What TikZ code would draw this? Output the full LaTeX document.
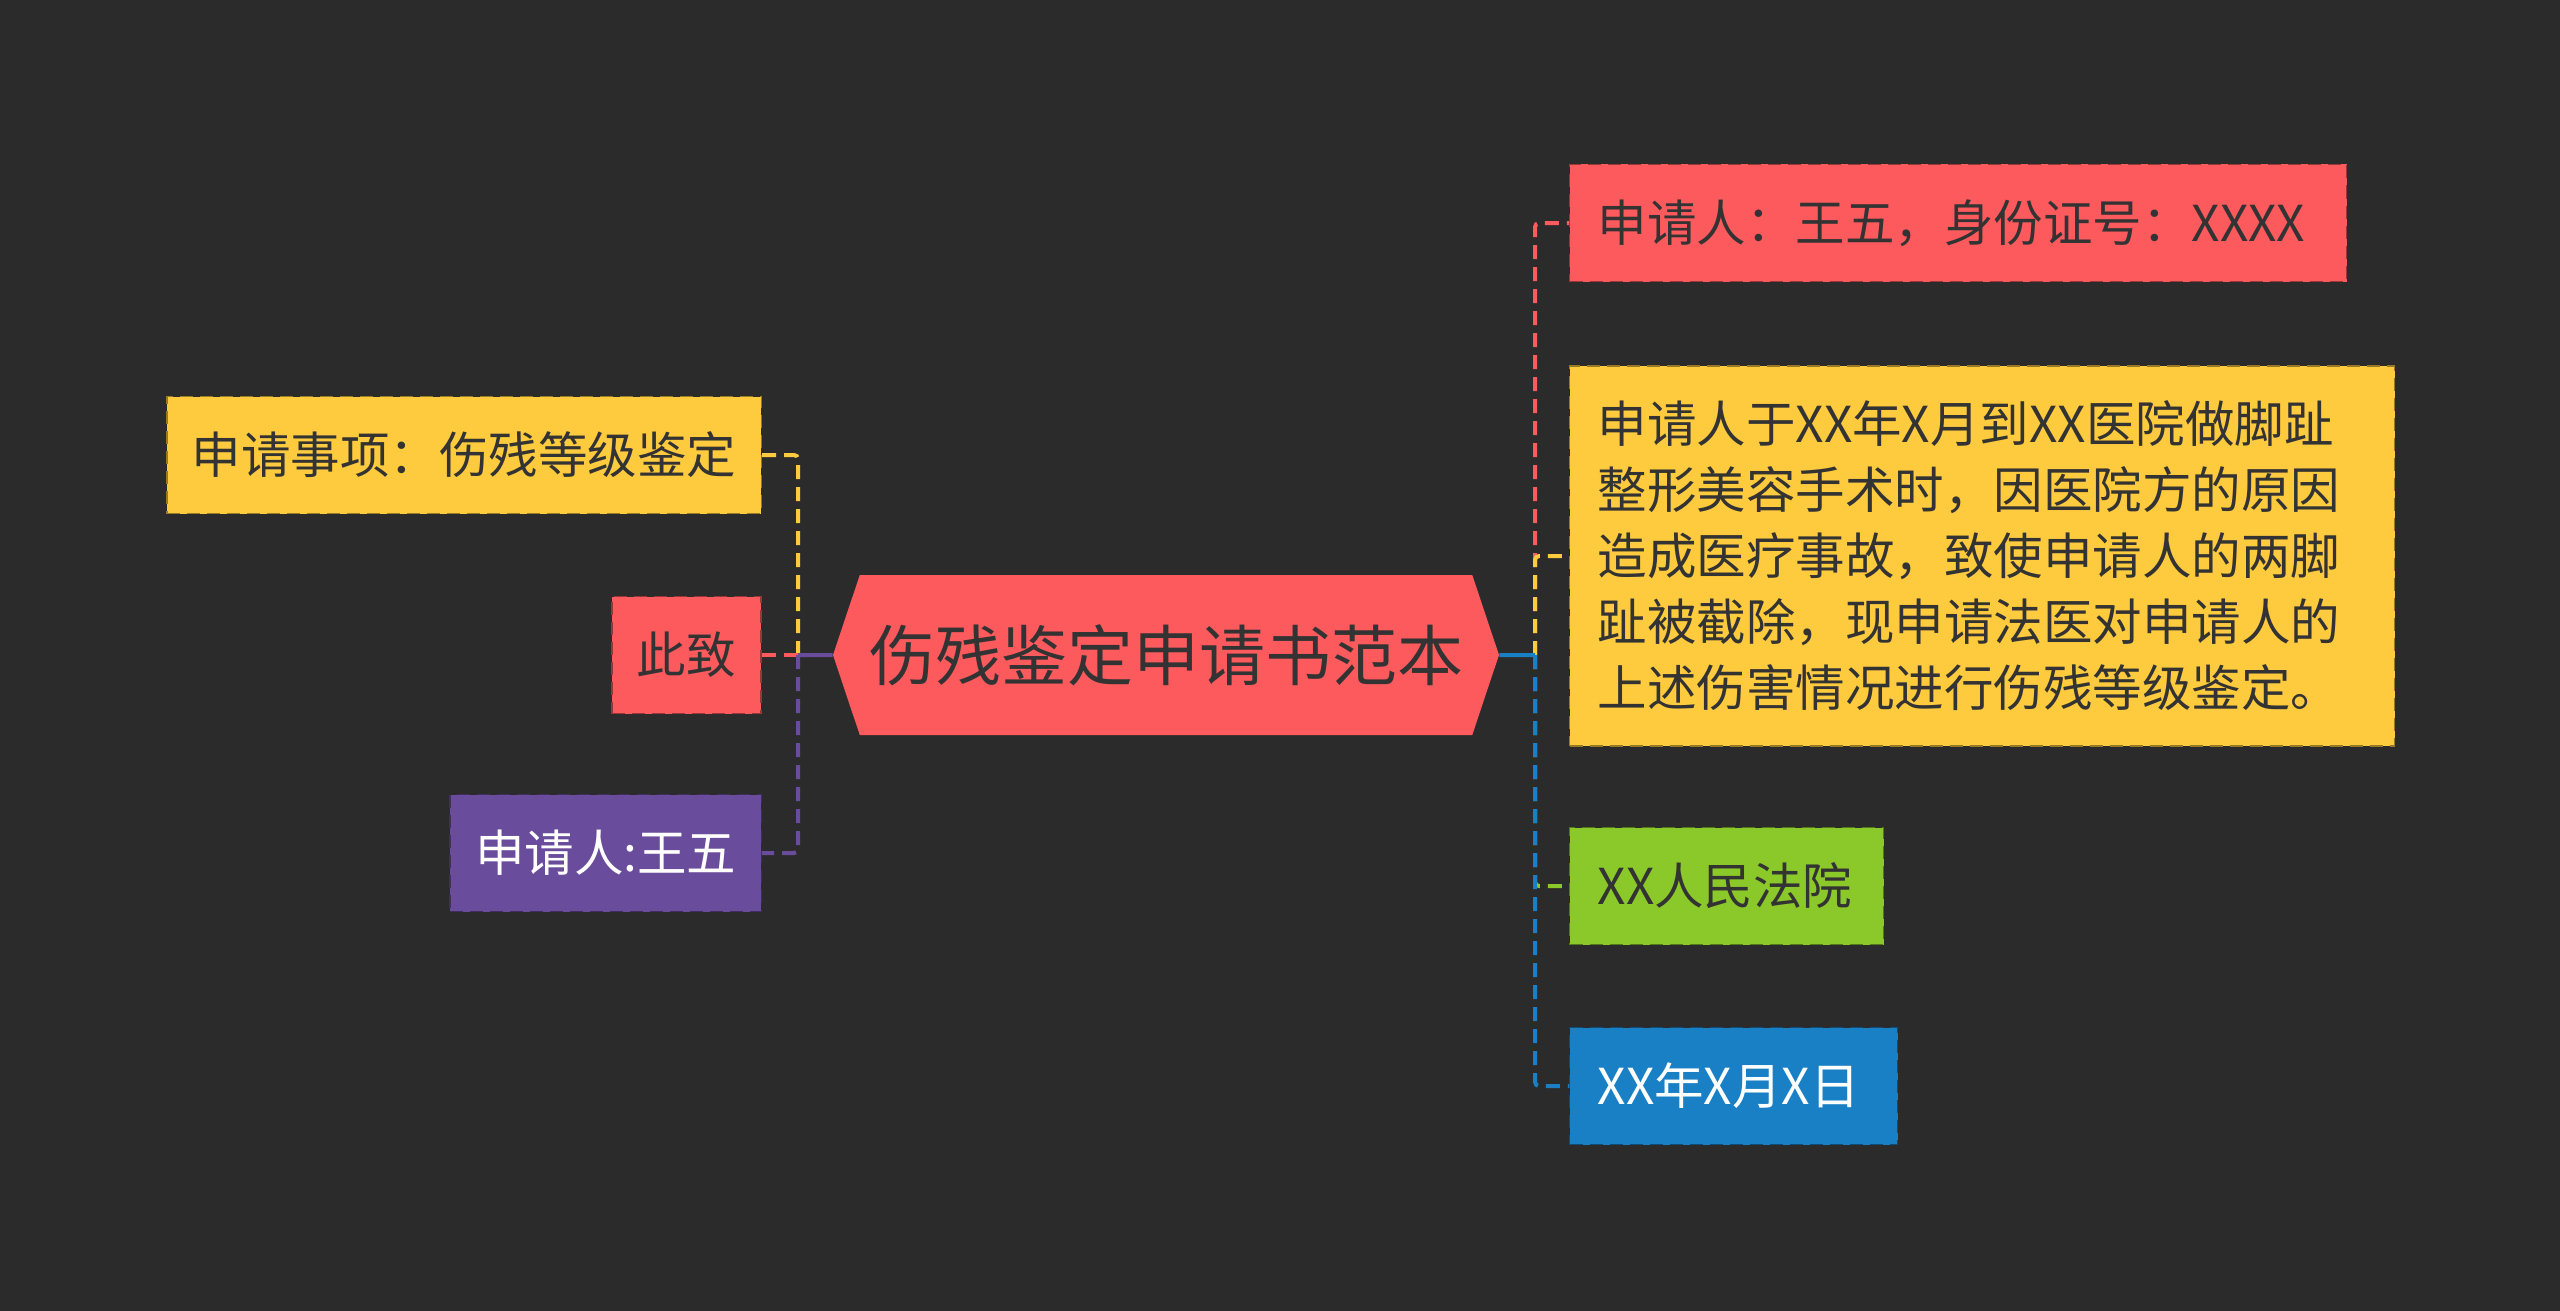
\documentclass[tikz,border=0pt]{standalone}
\usepackage{fontspec}
\setmainfont{Noto Sans CJK SC}
\usetikzlibrary{positioning,shapes.symbols}
\definecolor{mapbg}{HTML}{2B2B2B}
\definecolor{mapink}{HTML}{333333}
\definecolor{mapred}{HTML}{FD5A5E}
\definecolor{mapyellow}{HTML}{FECB3E}
\definecolor{mappurple}{HTML}{6A4C9C}
\definecolor{mapgreen}{HTML}{8BC92A}
\definecolor{mapblue}{HTML}{1A80C5}

\begin{document}
\begin{tikzpicture}[x=0.5pt, y=-0.5pt,
  root/.style={signal, signal to=west and east, signal pointer angle=143, fill=mapred, text=mapink, minimum width=333pt, minimum height=80pt, inner sep=0pt, font=\fontsize{33pt}{40pt}\selectfont},
  leaf/.style={draw=#1!60!black, dash pattern=on 6.5pt off 3.5pt, line width=0.7pt, fill=#1, text=mapink, minimum height=58.5pt, inner xsep=12.5pt, font=\fontsize{24.75pt}{33pt}\selectfont},
  rleaf/.style={leaf=#1, anchor=west, inner xsep=14pt, align=left},
  link/.style={line width=2pt, dash pattern=on 7pt off 4pt, rounded corners=2pt},
  stem/.style={line width=2pt}
]
\fill[mapbg] (0,0) rectangle (2560,1311);

\node[root] (root) at (1166,655) {伤残鉴定申请书范本};

% left branch
\node[leaf=mapred, left=35.5pt of root] (regards) {此致};
\node[leaf=mapyellow, anchor=east] (matter) at (762,455) {申请事项：伤残等级鉴定};
\node[leaf=mappurple, text=white, anchor=east] (signer) at (762,853) {申请人:王五};

% right branch
\node[rleaf=mapred, text width=360.5pt] (applicant) at (1569,223) {申请人：王五，身份证号：XXXX};
\node[rleaf=mapyellow, text width=384.5pt, minimum height=190pt] (facts) at (1569,556)
  {申请人于XX年X月到XX医院做脚趾\\整形美容手术时，因医院方的原因\\造成医疗事故，致使申请人的两脚\\趾被截除，现申请法医对申请人的\\上述伤害情况进行伤残等级鉴定。};
\node[rleaf=mapgreen, text width=129pt] (court) at (1569,886) {XX人民法院};
\node[rleaf=mapblue, text=white, text width=136pt] (date) at (1569,1086) {XX年X月X日};

\coordinate (ljoin) at (798,655);
\coordinate (rjoin) at (1535,655);

\draw[link, mapyellow] (ljoin) |- (matter);
\draw[link, mapred] (ljoin) -- (regards);
\draw[link, mappurple] (ljoin) |- (signer);
\draw[stem, mappurple] (root) -- (ljoin);

\draw[link, mapred] (rjoin) |- (applicant);
\draw[link, mapyellow] (rjoin) |- (facts);
\draw[link, mapgreen] (rjoin) |- (court);
\draw[link, mapblue] (rjoin) |- (date);
\draw[stem, mapblue] (root) -- (rjoin);
\end{tikzpicture}
\end{document}
